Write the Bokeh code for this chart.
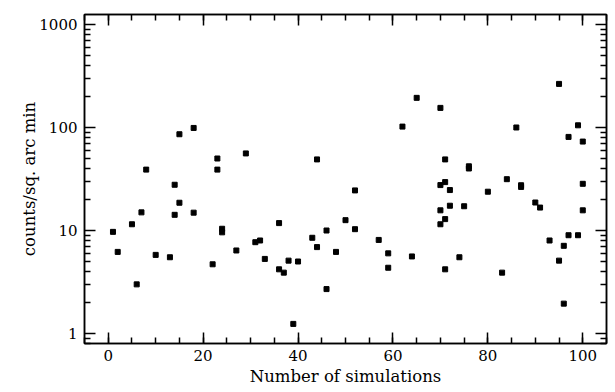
from bokeh.plotting import figure
from bokeh.models import (FixedTicker, SingleIntervalTicker, LinearAxis, LogAxis, Range1d,
                          CustomLabelingPolicy)
from bokeh.embed import file_html
from bokeh.resources import INLINE

# Data
sim_number = [1, 2, 5, 6, 7, 8, 10, 13, 14, 14, 15, 15, 18, 18, 22, 23, 23, 24, 24, 27,
              29, 31, 32, 33, 36, 36, 37, 38, 39, 40, 43, 44, 44, 46, 46, 48, 50, 52, 52, 57,
              59, 59, 62, 64, 65, 70, 70, 70, 70, 71, 71, 71, 71, 72, 72, 74, 75, 76, 76, 80,
              83, 84, 86, 87, 87, 90, 91, 93, 95, 95, 96, 96, 97, 97, 99, 99, 100, 100, 100]
counts = [9.7, 6.2, 11.5, 3.0, 15.0, 39, 5.8, 5.5, 27.8, 14.2, 86, 18.6, 99, 14.9, 4.7, 50, 39, 10.4, 9.6, 6.4,
          56, 7.7, 8.0, 5.3, 11.8, 4.2, 3.9, 5.1, 1.24, 5.0, 8.5, 49, 6.9, 10.0, 2.7, 6.2, 12.6, 24.5, 10.3, 8.1,
          6.0, 4.35, 102, 5.6, 194, 155, 27.6, 15.7, 11.5, 49, 29.5, 12.9, 4.2, 24.7, 17.4, 5.5, 17.2, 42, 40, 23.8,
          3.9, 31.5, 100, 27.5, 26.5, 18.7, 16.7, 8.0, 265, 5.1, 7.1, 1.95, 81, 9.0, 105, 9.0, 73, 28.4, 15.7]

y_major = [1, 10, 100, 1000]
y_labels = ["1", "10", "100", "1000"]
y_minor = [0.8, 0.9] + [m * d for d in (1, 10, 100) for m in range(2, 10)]

FONT = "DejaVu Serif"

p = figure(output_backend="svg", toolbar_location=None,
           y_axis_type="log", x_range=Range1d(-5, 105), y_range=Range1d(0.8, 1250),
           frame_width=522, frame_height=329,
           min_border_left=84, min_border_top=2, min_border_right=1, min_border_bottom=0)
p.xgrid.visible = False
p.ygrid.visible = False
p.outline_line_color = "black"
p.outline_line_width = 1.5
p.background_fill_color = "white"
p.border_fill_color = "white"

p.scatter(sim_number, counts, marker="square", size=5, color="black")

xt = SingleIntervalTicker(interval=20, num_minor_ticks=4)
yt = FixedTicker(ticks=y_major, minor_ticks=y_minor)
overrides = {v: s for v, s in zip(y_major, y_labels)}

def style(ax):
    ax.axis_line_width = 1.5
    ax.major_tick_line_width = 1.5
    ax.minor_tick_line_width = 1.5
    ax.major_tick_in = 11
    ax.major_tick_out = 0
    ax.minor_tick_in = 6
    ax.minor_tick_out = 0
    ax.major_label_text_font = FONT
    ax.major_label_text_font_size = "15px"
    ax.major_label_text_color = "black"
    ax.axis_label_text_font = FONT
    ax.axis_label_text_font_size = "16.5px"
    ax.axis_label_text_font_style = "normal"
    ax.axis_label_text_color = "black"

no_labels = CustomLabelingPolicy(code="""
const all = [];
for (const i of indices) { all.push(i) }
for (const i of all) { indices.unset(i) }
return indices
""")

xa = p.xaxis[0]
xa.ticker = xt
style(xa)
xa.axis_label = "Number of simulations"
xa.major_label_standoff = 6
xa.axis_label_standoff = 3

ya = p.yaxis[0]
ya.ticker = yt
style(ya)
ya.major_label_overrides = overrides
ya.axis_label = "counts/sq. arc min"
ya.major_label_standoff = 7
ya.axis_label_standoff = -3

top = LinearAxis(ticker=SingleIntervalTicker(interval=20, num_minor_ticks=4))
style(top)
top.major_label_policy = no_labels
top.major_label_standoff = 0
p.add_layout(top, "above")

right = LogAxis(ticker=FixedTicker(ticks=y_major, minor_ticks=y_minor))
style(right)
right.major_label_policy = no_labels
right.major_label_standoff = 0
p.add_layout(right, "right")

open("out.html", "w").write(file_html(p, INLINE))
